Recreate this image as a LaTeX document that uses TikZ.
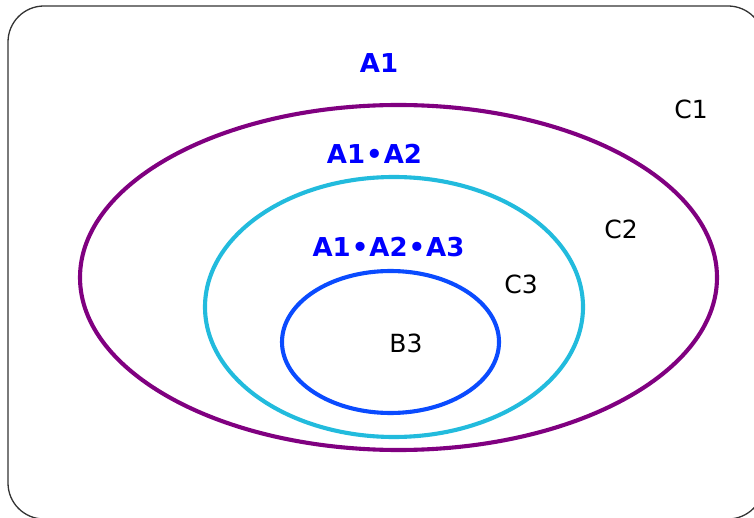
\documentclass[tikz,border=0pt]{standalone}
\usepackage{fontspec}
\setmainfont{DejaVu Sans}
\usetikzlibrary{shapes.geometric}
\definecolor{ringA}{HTML}{800080}
\definecolor{ringB}{HTML}{22BBDD}
\definecolor{ringC}{HTML}{0A4BFF}
\definecolor{labblue}{HTML}{0000FF}
\definecolor{frame}{HTML}{333333}
\tikzset{
  ring/.style={ellipse, draw, line width=4.1pt, inner sep=0pt},
  setlabel/.style={text=labblue, font=\fontsize{26}{30}\selectfont\bfseries, inner sep=0pt},
  plainlabel/.style={text=black, font=\fontsize{25}{30}\selectfont, inner sep=0pt}
}
\begin{document}
\begin{tikzpicture}[x=1pt,y=-1pt]
\useasboundingbox (0,0) rectangle (754,518);
\clip (0,0) rectangle (754,518);
\draw[frame, line width=1.3pt, rounded corners=36pt] (8,6) rectangle (764,519);
\node[ring, draw=ringA, minimum width=637pt, minimum height=345pt] (c1) at (398.5,277.5) {};
\node[ring, draw=ringB, minimum width=378pt, minimum height=260pt] (c2) at (394,307) {};
\node[ring, draw=ringC, minimum width=217pt, minimum height=142pt] (c3) at (390.5,342) {};
\node[setlabel] (la1) at (379,63) {A1};
\node[setlabel] (la2) at (374.5,154) {A1\kern1pt•\kern1ptA2};
\node[setlabel] (la3) at (388.5,247) {A1\kern1pt•\kern1ptA2\kern1pt•\kern1ptA3};
\node[plainlabel] (lc1) at (691,109) {C1};
\node[plainlabel] (lc2) at (621,229) {C2};
\node[plainlabel] (lc3) at (521,284) {C3};
\node[plainlabel] (lb3) at (406,343) {B3};
\end{tikzpicture}
\end{document}
